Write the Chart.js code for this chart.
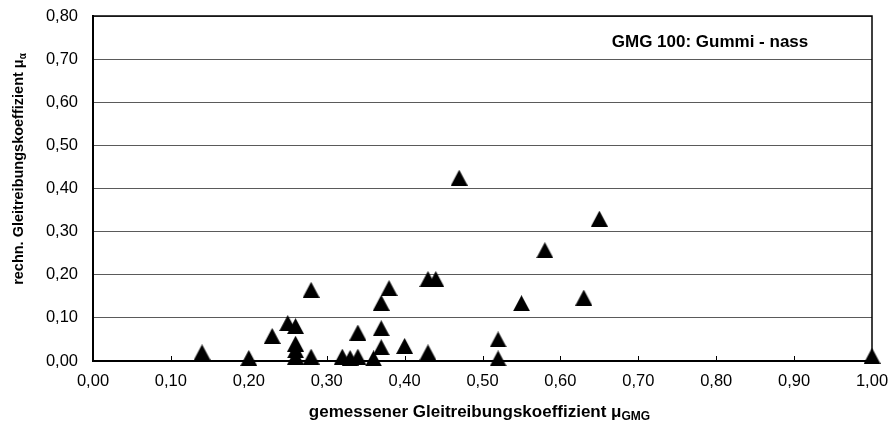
<!DOCTYPE html>
<html>
<head>
<meta charset="utf-8">
<script src="https://cdn.jsdelivr.net/npm/chart.js@4/dist/chart.umd.min.js"></script>
<style>
  html, body { margin: 0; padding: 0; background: #fff; }
  #wrap { width: 890px; height: 433px; position: relative; }
</style>
</head>
<body>
<div id="wrap"><canvas id="chart"></canvas></div>
<script>
// measured coefficient (x) vs calculated coefficient (y)
const muGMG = [0.14, 0.20, 0.23, 0.25, 0.26, 0.26, 0.26, 0.26, 0.28, 0.28, 0.32, 0.33, 0.34, 0.34, 0.36,
  0.37, 0.37, 0.37, 0.38, 0.40, 0.43, 0.44, 0.43, 0.47, 0.52, 0.52, 0.55, 0.58, 0.63, 0.65, 1.00];
const muAlpha = [0.020, 0.007, 0.058, 0.088, 0.081, 0.040, 0.025, 0.010, 0.165, 0.010, 0.010, 0.007, 0.010, 0.066, 0.006,
  0.135, 0.076, 0.032, 0.169, 0.035, 0.190, 0.190, 0.020, 0.425, 0.050, 0.006, 0.134, 0.257, 0.147, 0.330, 0.012];

const xTickLabels = ["0,00", "0,10", "0,20", "0,30", "0,40", "0,50", "0,60", "0,70", "0,80", "0,90", "1,00"];
const yTickLabels = ["0,00", "0,10", "0,20", "0,30", "0,40", "0,50", "0,60", "0,70", "0,80"];

const boxTitle = "GMG 100: Gummi - nass";
const xTitle = ["gemessener Gleitreibungskoeffizient μ", "GMG"];
const yTitle = ["rechn. Gleitreibungskoeffizient μ", "α"];

const FONT = "'Liberation Sans', Arial, sans-serif";
Chart.defaults.font.family = FONT;
Chart.defaults.color = "#000";

// triangle marker centred on its bounding box (like the original)
function makeTriangle(w, h) {
  const c = document.createElement("canvas");
  c.width = w;
  c.height = h;
  const g = c.getContext("2d");
  g.fillStyle = "#000";
  g.beginPath();
  g.moveTo(w / 2, 0);
  g.lineTo(w, h);
  g.lineTo(0, h);
  g.closePath();
  g.fill();
  return c;
}
const tri = makeTriangle(17, 16);

// label with a subscript part
function drawSub(ctx, parts, size, subSize) {
  ctx.font = "bold " + size + "px " + FONT;
  const w1 = ctx.measureText(parts[0]).width;
  ctx.font = "bold " + subSize + "px " + FONT;
  const w2 = ctx.measureText(parts[1]).width;
  const start = -(w1 + w2) / 2;
  ctx.textAlign = "left";
  ctx.textBaseline = "alphabetic";
  ctx.font = "bold " + size + "px " + FONT;
  ctx.fillText(parts[0], start, 0);
  ctx.font = "bold " + subSize + "px " + FONT;
  ctx.fillText(parts[1], start + w1, 3);
}

// let the layout padding alone decide the plot area
function noPad(s) {
  s.paddingTop = 0;
  s.paddingBottom = 0;
  s.paddingLeft = 0;
  s.paddingRight = 0;
}

const decorations = {
  id: "decorations",
  beforeDatasetsDraw(chart) {
    const { ctx, chartArea: a, scales } = chart;
    ctx.save();
    // frame top / right
    ctx.strokeStyle = "#000";
    ctx.lineWidth = 1.5;
    ctx.beginPath();
    ctx.moveTo(a.left, a.top);
    ctx.lineTo(a.right, a.top);
    ctx.lineTo(a.right, a.bottom);
    ctx.stroke();
    // small inward ticks on x axis
    ctx.lineWidth = 1;
    ctx.beginPath();
    scales.x.ticks.forEach((t) => {
      const px = Math.round(scales.x.getPixelForValue(t.value)) + 0.5;
      ctx.moveTo(px, a.bottom);
      ctx.lineTo(px, a.bottom - 5);
    });
    ctx.stroke();
    ctx.restore();
  },
  afterDraw(chart) {
    const { ctx, chartArea: a } = chart;
    ctx.save();
    ctx.fillStyle = "#000";
    // box title
    ctx.font = "bold 17px " + FONT;
    ctx.textAlign = "center";
    ctx.textBaseline = "alphabetic";
    ctx.fillText(boxTitle, 710, 47);
    // x title
    ctx.save();
    ctx.translate((a.left + a.right) / 2 - 3, 417);
    drawSub(ctx, xTitle, 17, 12);
    ctx.restore();
    // y title
    ctx.save();
    ctx.translate(23, 169);
    ctx.rotate(-Math.PI / 2);
    drawSub(ctx, yTitle, 14.5, 10);
    ctx.restore();
    ctx.restore();
  },
};

new Chart(document.getElementById("chart"), {
  type: "scatter",
  data: {
    datasets: [
      {
        data: muGMG.map((x, i) => ({ x: x, y: muAlpha[i] })),
        pointStyle: tri,
        clip: false,
      },
    ],
  },
  options: {
    responsive: true,
    maintainAspectRatio: false,
    animation: false,
    layout: { padding: { left: 0, top: 16, right: 18, bottom: 0 } },
    plugins: {
      legend: { display: false },
      tooltip: { enabled: false },
    },
    scales: {
      x: {
        type: "linear",
        min: 0,
        max: 1,
        ticks: {
          stepSize: 0.1,
          autoSkip: false,
          maxRotation: 0,
          padding: 11,
          font: { size: 16.5 },
          callback: (v, i) => xTickLabels[i],
        },
        grid: { drawOnChartArea: false, drawTicks: false },
        border: { color: "#000", width: 2 },
        afterFit: (s) => { s.height = 72; noPad(s); },
      },
      y: {
        min: 0,
        max: 0.8,
        ticks: {
          stepSize: 0.1,
          autoSkip: false,
          padding: 15,
          font: { size: 16.5 },
          callback: (v, i) => yTickLabels[i],
        },
        grid: { color: "#5a5a5a", lineWidth: 1, drawTicks: false },
        border: { color: "#000", width: 2 },
        afterFit: (s) => { s.width = 93; noPad(s); },
      },
    },
  },
  plugins: [decorations],
});
</script>
</body>
</html>
